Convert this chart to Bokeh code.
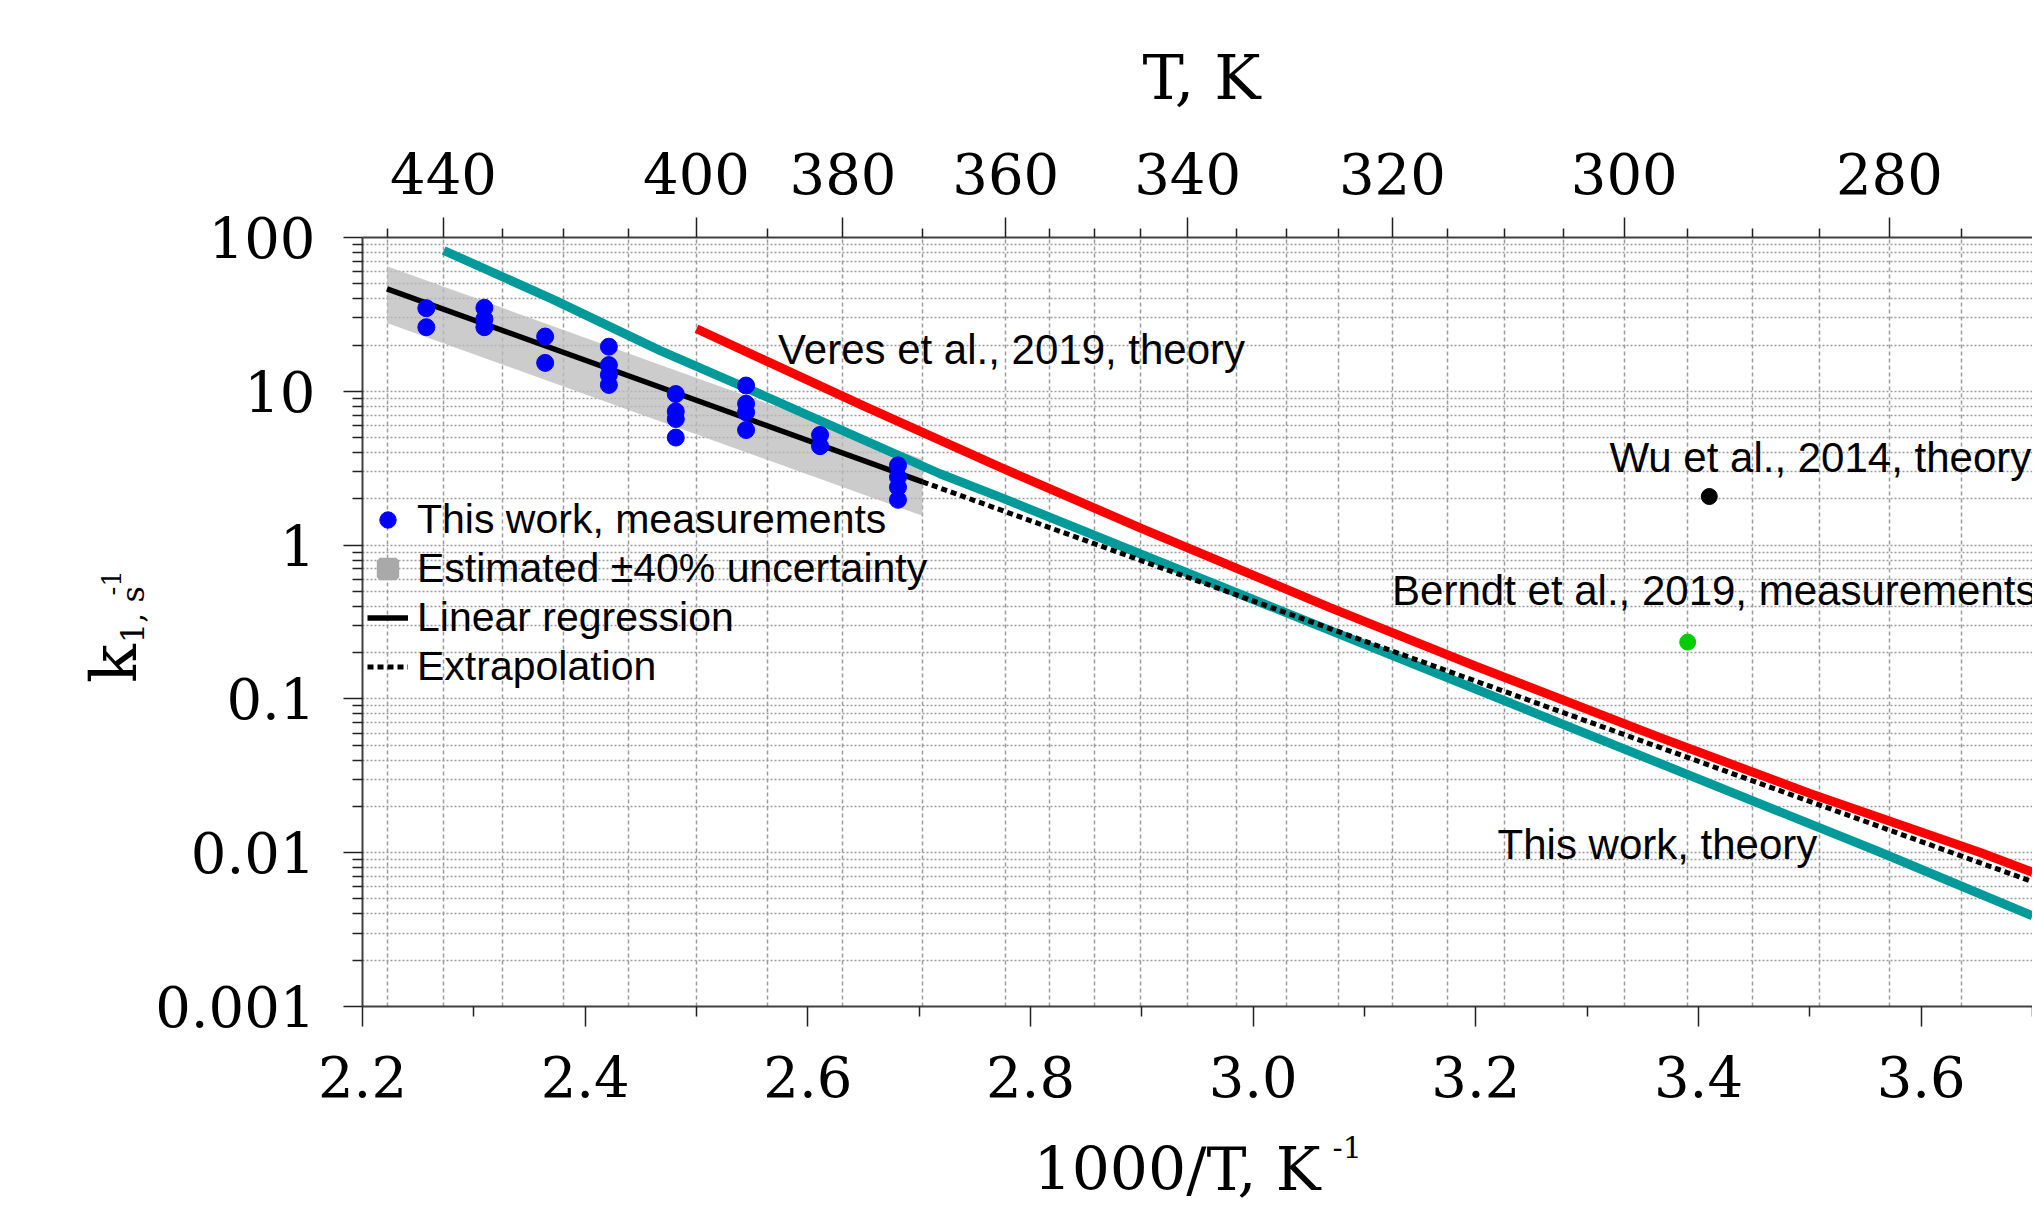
from bokeh.plotting import figure
from bokeh.layouts import column, row
from bokeh.models import (FixedTicker, LinearAxis, CustomJSTickFormatter,
                          Label, Legend, LegendItem, Range1d)
from bokeh.core.properties import value
from bokeh.embed import file_html
from bokeh.resources import INLINE

# ---------------- data ----------------
# measurements (this work): temperature [K] and rate constant k1 [s^-1]
meas_T = [443, 443, 433, 433, 433, 423, 423, 413, 413, 413, 413,
          403, 403, 403, 403, 393, 393, 393, 393, 383, 383, 373, 373, 373, 373]
meas_k = [34.7, 26.1, 34.9, 29.5, 26.1, 22.7, 15.3, 19.5, 14.8, 12.8, 11.0,
          9.6, 7.4, 6.6, 5.0, 10.9, 8.3, 7.3, 5.6, 5.2, 4.4, 3.3, 2.77, 2.38, 1.97]

# linear regression (solid) and its extrapolation (dotted), x = 1000/T
reg_x = [2.222, 2.703]
reg_k = [46.4, 2.58]
ext_x = [2.703, 3.700]
ext_k = [2.58, 0.00648]

# estimated +-40 % uncertainty band
band_x = [2.222, 2.703]
band_lo = [27.8, 1.55]
band_hi = [65.0, 3.61]

# this work, theory
theory_x = [2.273, 2.370, 2.4674, 2.545, 2.7187, 2.7726, 3.000, 3.560, 3.700]
theory_k = [82.3, 39.9, 18.4, 10.5, 2.91, 2.05, 0.443, 0.0103, 0.00389]

# Veres et al., 2019, theory
veres_x = [2.500, 2.650, 2.7726, 2.900, 3.0685, 3.200, 3.3645, 3.500, 3.6537, 3.700]
veres_k = [25.5, 8.03, 3.21, 1.28, 0.394, 0.163, 0.0564, 0.0243, 0.0100, 0.00746]

# single points
wu_x, wu_k = [3.4097], [2.07]
berndt_x, berndt_k = [3.3903], [0.234]

# ticks
y_ticks = [0.001, 0.01, 0.1, 1, 10, 100]
y_minor = [m * d for d in [0.001, 0.01, 0.1, 1, 10] for m in range(2, 10)]
x_ticks = [2.2, 2.4, 2.6, 2.8, 3.0, 3.2, 3.4, 3.6]
x_minor = [2.3, 2.5, 2.7, 2.9, 3.1, 3.3, 3.5, 3.7]
top_T_major = [440, 400, 380, 360, 340, 320, 300, 280]
top_T_minor = [450, 430, 420, 410, 390, 370, 355, 350, 345, 335, 330, 325,
               315, 310, 305, 295, 290, 285, 275]

# ---------------- styling constants ----------------
SERIF = "DejaVu Serif"
SANS = "Liberation Sans"
GRID = "#9c9c9c"

TOTAL_W, TOTAL_H = 2032, 1204
TOP_H, BOT_H, YLAB_W = 125, 78, 150
MAIN_W = TOTAL_W - YLAB_W
MAIN_H = TOTAL_H - TOP_H - BOT_H

p = figure(width=MAIN_W, height=MAIN_H, output_backend="svg", toolbar_location=None,
           x_range=Range1d(2.2, 3.7), y_range=Range1d(0.001, 100),
           y_axis_type="log", min_border_left=212, min_border_right=0,
           min_border_top=112, min_border_bottom=120)
p.outline_line_color = None
p.background_fill_color = "white"

bottom_axis = p.below[0]
left_axis = p.left[0]

y_ticker = FixedTicker(ticks=y_ticks, minor_ticks=y_minor)
left_axis.ticker = y_ticker
left_axis.formatter = CustomJSTickFormatter(code="return tick.toString()")

x_ticker = FixedTicker(ticks=x_ticks, minor_ticks=x_minor)
bottom_axis.ticker = x_ticker
bottom_axis.formatter = CustomJSTickFormatter(code="return tick.toFixed(1)")

top_ticker = FixedTicker(ticks=[1000.0 / t for t in top_T_major],
                         minor_ticks=[1000.0 / t for t in top_T_minor])
top_axis = LinearAxis(ticker=top_ticker,
                      formatter=CustomJSTickFormatter(code="return Math.round(1000/tick).toFixed(0)"))
p.add_layout(top_axis, "above")

for ax in [bottom_axis, left_axis, top_axis]:
    ax.axis_line_color = "#404040"
    ax.axis_line_width = 2
    ax.major_tick_line_color = "#202020"
    ax.minor_tick_line_color = "#202020"
    ax.major_tick_line_width = 1.5
    ax.minor_tick_line_width = 1.5
    ax.major_tick_in = 0
    ax.minor_tick_in = 0
    ax.major_tick_out = 20
    ax.minor_tick_out = 10
    ax.major_label_text_font = SERIF
    ax.major_label_text_font_size = "56px"
    ax.major_label_text_color = "black"
left_axis.major_tick_out = 19
left_axis.major_label_standoff = 28
bottom_axis.major_label_standoff = 29
top_axis.major_label_standoff = 24
top_axis.minor_tick_out = 9

# grids
p.xgrid.ticker = top_ticker
p.xgrid.grid_line_color = GRID
p.xgrid.grid_line_dash = "4 3"
p.xgrid.grid_line_width = 1.5
p.xgrid.minor_grid_line_color = GRID
p.xgrid.minor_grid_line_dash = "4 3"
p.xgrid.minor_grid_line_width = 1.5
p.ygrid.ticker = y_ticker
p.ygrid.grid_line_color = GRID
p.ygrid.grid_line_dash = "2 2"
p.ygrid.grid_line_width = 1.5
p.ygrid.minor_grid_line_color = GRID
p.ygrid.minor_grid_line_dash = "2 2"
p.ygrid.minor_grid_line_width = 1.5

# ---------------- glyphs ----------------
p.varea(x=band_x, y1=band_lo, y2=band_hi, fill_color="#bbbbbb", fill_alpha=0.75)
p.line(theory_x, theory_k, line_color="#009a9a", line_width=9)
p.line(veres_x, veres_k, line_color="#ff0000", line_width=9)
r_reg = p.line(reg_x, reg_k, line_color="black", line_width=5.5)
r_ext = p.line(ext_x, ext_k, line_color="black", line_width=5, line_dash="6 4")
r_meas = p.scatter([1000.0 / t for t in meas_T], meas_k, size=17,
                   fill_color="#0000ff", line_color="#0000ff")
p.scatter(wu_x, wu_k, size=16, fill_color="black", line_color="black")
p.scatter(berndt_x, berndt_k, size=16, fill_color="#00cc00", line_color="#00cc00")
# legend proxy for the uncertainty band (no visible mark)
r_band_leg = p.scatter([float("nan")], [float("nan")], marker="square", size=16,
                       fill_color="#a9a9a9", line_color="#a9a9a9", line_width=6)

# annotation texts (anchored at their vertical middle)
for (tx, ty, txt) in [(2.5733, 18.8, "Veres et al., 2019, theory"),
                      (3.320, 3.71, "Wu et al., 2014, theory"),
                      (3.1248, 0.505, "Berndt et al., 2019, measurements"),
                      (3.2195, 0.01137, "This work, theory")]:
    p.add_layout(Label(x=tx, y=ty, text=txt, text_font=SANS, text_font_size="42px",
                       text_align="left", text_baseline="middle", text_color="black"))

legend = Legend(items=[
    LegendItem(label="This work, measurements", renderers=[r_meas]),
    LegendItem(label="Estimated \u00b140% uncertainty", renderers=[r_band_leg]),
    LegendItem(label="Linear regression", renderers=[r_reg]),
    LegendItem(label="Extrapolation", renderers=[r_ext]),
], location=(5, 316))
legend.background_fill_alpha = 0
legend.border_line_color = None
legend.padding = 0
legend.margin = 0
legend.spacing = 2
legend.glyph_width = 41
legend.glyph_height = 45
legend.label_height = 45
legend.label_standoff = 9
legend.label_text_font = SANS
legend.label_text_font_size = "41px"
legend.label_text_color = "black"
p.add_layout(legend)

# ---------------- axis titles (text-only panels) ----------------
def text_panel(w, h):
    f = figure(width=w, height=h, x_range=Range1d(0, w), y_range=Range1d(0, h),
               output_backend="svg", toolbar_location=None, min_border=0,
               x_axis_type=None, y_axis_type=None)
    f.outline_line_color = None
    return f

def put(f, x, y, txt, size, angle=0.0, align="left"):
    f.text(x=[x], y=[y], text=[txt], text_font=value(SERIF),
           text_font_size=value(size), angle=angle, angle_units="deg",
           text_align=value(align), text_baseline=value("middle"), text_color="black")

top_fig = text_panel(TOTAL_W, TOP_H)
put(top_fig, 1201, TOP_H - 77, "T, K", "62px", align="center")

ylab_fig = text_panel(YLAB_W, MAIN_H)
put(ylab_fig, 113, MAIN_H + TOP_H - 705, "k", "64px", angle=90)
put(ylab_fig, 132, MAIN_H + TOP_H - 653, "1, s", "32px", angle=90)
put(ylab_fig, 111, MAIN_H + TOP_H - 591, "-1", "26px", angle=90)

bot_fig = text_panel(TOTAL_W, BOT_H)
put(bot_fig, 1033, 36, "1000/T, K", "60px")
put(bot_fig, 1332, 58, "-1", "30px")

layout = column(top_fig, row(ylab_fig, p), bot_fig)
open("out.html", "w").write(file_html(layout, INLINE))
